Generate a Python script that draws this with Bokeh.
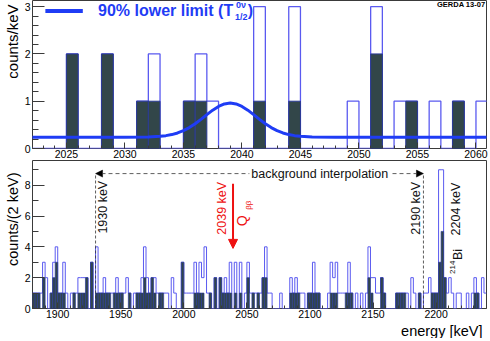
import numpy as np
from bokeh.plotting import figure
from bokeh.layouts import column
from bokeh.models import SingleIntervalTicker, Label, Arrow, NormalHead, Range1d, Title
from bokeh.embed import file_html
from bokeh.resources import INLINE

FONT = "Liberation Sans"
BLUE = "#1f3cf5"
OPEN_COLOR = "#5a5af0"
DARK_FILL = "#324649"
DARK_LINE = "#2a3a96"
RED = "#ee1111"

# ---------------- top panel: 1 keV bins, counts/keV ----------------
top_first_edge = 2022
top_bin_width = 1
top_before_psd = [0, 0, 0, 2, 0, 0, 2, 0, 0, 1,
                  2, 0, 0, 1, 2, 1, 0, 0, 0, 3,
                  0, 0, 3, 0, 0, 0, 0, 1, 0, 3,
                  0, 1, 1, 0, 1, 0, 1, 0, 1]
top_after_psd = [0, 0, 0, 2, 0, 0, 2, 0, 0, 1,
                 1, 0, 0, 1, 1, 0, 0, 0, 0, 1,
                 0, 0, 1, 0, 0, 0, 0, 0, 0, 2,
                 0, 0, 1, 0, 0, 0, 1, 0, 0]
# 90% lower limit curve
limit_energy = [2022, 2030, 2032, 2033, 2033.5, 2034, 2034.5, 2035, 2035.5, 2036,
                2036.5, 2037, 2037.5, 2038, 2038.5, 2039, 2039.5, 2040, 2040.5, 2041,
                2041.5, 2042, 2042.5, 2043, 2043.5, 2044, 2044.5, 2045, 2046, 2048, 2061]
limit_counts = [0.24, 0.24, 0.245, 0.257, 0.272, 0.294, 0.329, 0.378, 0.443, 0.524,
                0.617, 0.716, 0.811, 0.889, 0.942, 0.96, 0.942, 0.889, 0.811, 0.716,
                0.617, 0.524, 0.443, 0.378, 0.329, 0.294, 0.272, 0.257, 0.245, 0.24, 0.24]

# ---------------- bottom panel: 2 keV bins, counts/(2 keV) ----------------
bot_first_edge = 1880
bot_bin_width = 2
bot_before_psd = [1, 1, 1, 1, 3, 2, 0, 1, 3, 4,
                  1, 1, 3, 1, 0, 1, 1, 1, 2, 2,
                  2, 2, 0, 3, 0, 4, 1, 1, 2, 1,
                  1, 1, 1, 2, 1, 1, 1, 2, 1, 0,
                  1, 1, 1, 2, 4, 2, 1, 2, 2, 1,
                  1, 1, 1, 1, 0, 2, 1, 0, 0, 3,
                  1, 1, 1, 1, 3, 1, 3, 2, 4, 1,
                  1, 0, 2, 0, 2, 1, 2, 1, 3, 0,
                  3, 0, 3, 0, 1, 3, 1, 1, 1, 1,
                  1, 2, 4, 1, 1, 0, 0, 0, 1, 0,
                  0, 0, 2, 1, 2, 1, 1, 1, 0, 1,
                  1, 3, 1, 1, 0, 0, 0, 1, 3, 2,
                  3, 1, 1, 1, 1, 3, 1, 0, 1, 0,
                  1, 0, 1, 4, 2, 2, 1, 1, 2, 1,
                  0, 0, 0, 0, 1, 1, 1, 1, 1, 0,
                  2, 1, 0, 1, 0, 1, 1, 2, 1, 1,
                  1, 9, 9, 2, 1, 2, 1, 0, 1, 1,
                  0, 0, 1, 0, 1, 2, 1, 0, 2, 1]
bot_after_psd = [1, 1, 1, 0, 2, 0, 0, 1, 2, 3,
                 1, 1, 1, 0, 0, 0, 1, 0, 1, 1,
                 1, 2, 0, 3, 0, 1, 1, 1, 1, 1,
                 1, 0, 1, 1, 1, 1, 0, 0, 1, 0,
                 0, 1, 1, 1, 2, 1, 1, 2, 1, 0,
                 1, 1, 0, 0, 0, 0, 0, 0, 0, 3,
                 0, 0, 0, 0, 1, 1, 1, 1, 0, 0,
                 1, 0, 2, 0, 2, 1, 1, 1, 1, 0,
                 1, 0, 1, 0, 0, 2, 0, 1, 0, 1,
                 0, 2, 2, 0, 0, 0, 0, 0, 0, 0,
                 0, 0, 1, 1, 1, 1, 0, 0, 0, 1,
                 1, 1, 1, 1, 0, 0, 0, 0, 1, 1,
                 1, 0, 0, 0, 1, 1, 1, 0, 0, 0,
                 0, 0, 0, 2, 1, 0, 0, 0, 2, 1,
                 0, 0, 0, 0, 1, 1, 1, 1, 0, 0,
                 0, 0, 0, 1, 0, 0, 0, 0, 1, 1,
                 1, 3, 5, 2, 0, 0, 0, 0, 0, 0,
                 0, 0, 0, 0, 0, 1, 1, 0, 0, 0]
interp_limits = [1930, 2190]
q_bb = 2039
interp_level = 8.75


def edges_of(first, width, n):
    return list(first + width * np.arange(n + 1))


def style(p, x_interval, x_minor, y_interval, y_minor, xtick, ytick):
    p.xaxis.ticker = SingleIntervalTicker(interval=x_interval, num_minor_ticks=x_minor)
    p.yaxis.ticker = SingleIntervalTicker(interval=y_interval, num_minor_ticks=y_minor)
    p.xgrid.visible = False
    p.ygrid.visible = False
    p.outline_line_color = "#3a3a3a"
    p.outline_line_width = 1
    p.background_fill_color = "white"
    p.border_fill_color = "white"
    for ax in (p.xaxis[0], p.yaxis[0]):
        ax.axis_line_color = None
        ax.major_tick_out = 0
        ax.minor_tick_out = 0
        ax.major_tick_line_color = "#3a3a3a"
        ax.minor_tick_line_color = "#3a3a3a"
        ax.major_label_text_font = FONT
        ax.major_label_text_font_size = "10.5px"
        ax.major_label_text_color = "black"
        ax.major_label_standoff = 2
    p.xaxis.major_tick_in = xtick
    p.xaxis.minor_tick_in = xtick // 2
    p.yaxis.major_tick_in = ytick
    p.yaxis.minor_tick_in = ytick // 2
    p.xaxis.major_label_standoff = 1


def ytitle(p, text, size, offset):
    p.add_layout(Title(text=text, align="right", text_font=FONT, text_font_size=size,
                       text_font_style="normal", text_color="black", standoff=2,
                       offset=offset), "left")


def hist(p, first, width, before, after, lw_open, lw_dark):
    edges = edges_of(first, width, len(before))
    p.step(x=edges, y=list(before) + [before[-1]], mode="after",
           line_color=OPEN_COLOR, line_width=lw_open)
    idx = [i for i, v in enumerate(after) if v > 0]
    p.quad(left=[edges[i] for i in idx], right=[edges[i + 1] for i in idx],
           top=[after[i] for i in idx], bottom=0,
           fill_color=DARK_FILL, line_color=DARK_LINE, line_width=lw_dark)


# ---------------- top figure ----------------
top = figure(frame_width=454, frame_height=148, x_range=Range1d(2022.1, 2060.9), y_range=Range1d(0, 3.13),
             output_backend="svg", toolbar_location=None,
             min_border_left=20, min_border_right=2, min_border_top=0, min_border_bottom=10)
style(top, 5, 5, 1, 5, 6, 12)
ytitle(top, "counts/keV", "15px", 4)
hist(top, top_first_edge, top_bin_width, top_before_psd, top_after_psd, 1.3, 1.0)
top.line(limit_energy, limit_counts, line_color=BLUE, line_width=3)

# legend swatch and text
top.line([2023.2, 2026.4], [2.91, 2.91], line_color=BLUE, line_width=4)
top.add_layout(Label(x=2027.7, y=2.92, text="90% lower limit (T", text_font=FONT,
                     text_font_style="bold", text_font_size="16px", text_color=BLUE,
                     text_baseline="middle"))
top.add_layout(Label(x=2039.4, y=2.78, text="1/2", text_font=FONT,
                     text_font_style="bold", text_font_size="9px", text_color=BLUE,
                     text_baseline="middle"))
top.add_layout(Label(x=2039.5, y=3.03, text="0ν", text_font=FONT,
                     text_font_style="bold", text_font_size="9px", text_color=BLUE,
                     text_baseline="middle"))
top.add_layout(Label(x=2040.5, y=2.92, text=")", text_font=FONT,
                     text_font_style="bold", text_font_size="16px", text_color=BLUE,
                     text_baseline="middle"))
top.add_layout(Label(x=2060.8, y=3.05, text="GERDA 13-07", text_font=FONT,
                     text_font_style="bold", text_font_size="7.5px", text_color="black",
                     text_align="right", text_baseline="middle"))

# ---------------- bottom figure ----------------
bot = figure(frame_width=454, frame_height=148, x_range=Range1d(1880, 2240), y_range=Range1d(0, 9.6),
             output_backend="svg", toolbar_location=None,
             min_border_left=20, min_border_right=2, min_border_top=0, min_border_bottom=0)
style(bot, 50, 5, 2, 2, 6, 12)
ytitle(bot, "counts/(2 keV)", "14.5px", 12)
bot.add_layout(Title(text="energy  [keV]", align="right", text_font=FONT, text_font_size="14.5px",
                     text_font_style="normal", text_color="black", standoff=0), "below")
hist(bot, bot_first_edge, bot_bin_width, bot_before_psd, bot_after_psd, 1.0, 0.7)

bot.segment(x0=interp_limits, y0=[0, 0], x1=interp_limits, y1=[interp_level] * 2,
            line_color="#333333", line_width=0.8, line_dash="3 2")
mid = (interp_limits[0] + interp_limits[1]) / 2
for lim in interp_limits:
    bot.add_layout(Arrow(end=NormalHead(size=7, fill_color="black", line_color="black", line_width=0.5),
                         x_start=mid, y_start=interp_level, x_end=lim, y_end=interp_level,
                         line_color="#333333", line_width=0.8, line_dash="4 3"))
bot.add_layout(Label(x=2107.8, y=interp_level, text="background interpolation", text_font=FONT,
                     text_font_size="12.5px", text_color="#111111", text_align="center",
                     text_baseline="middle", background_fill_color="white", padding=2))

for txt, xx, yy in (("1930 keV", 1935.8, 6.57), ("2190 keV", 2183.8, 6.5), ("2204 keV", 2216.2, 6.45)):
    bot.add_layout(Label(x=xx, y=yy, text=txt, angle=90, angle_units="deg", text_align="center",
                         text_baseline="middle", text_font=FONT, text_font_size="12.5px",
                         text_color="#111111"))
bot.add_layout(Label(x=2217.6, y=3.5, text="Bi", angle=90, angle_units="deg", text_align="center",
                     text_baseline="middle", text_font=FONT, text_font_size="12.5px", text_color="#111111"))
bot.add_layout(Label(x=2213.2, y=2.67, text="214", angle=90, angle_units="deg", text_align="center",
                     text_baseline="middle", text_font=FONT, text_font_size="8px", text_color="#111111"))

# Q_bb marker
bot.add_layout(Arrow(end=NormalHead(size=9, fill_color=RED, line_color=RED, line_width=1),
                     x_start=q_bb, y_start=8.1, x_end=q_bb, y_end=3.9,
                     line_color=RED, line_width=2))
bot.add_layout(Label(x=2029.9, y=6.5, text="2039 keV", angle=90, angle_units="deg", text_align="center",
                     text_baseline="middle", text_font=FONT, text_font_size="12.5px", text_color=RED))
bot.add_layout(Label(x=2046.5, y=5.69, text="Q", angle=90, angle_units="deg", text_align="center",
                     text_baseline="middle", text_font=FONT, text_font_size="14px", text_color=RED))
bot.add_layout(Label(x=2051.3, y=6.7, text="ββ", angle=90, angle_units="deg", text_align="center",
                     text_baseline="middle", text_font=FONT, text_font_size="8px", text_color=RED))

layout = column(top, bot)
open("out.html", "w").write(file_html(layout, INLINE))
